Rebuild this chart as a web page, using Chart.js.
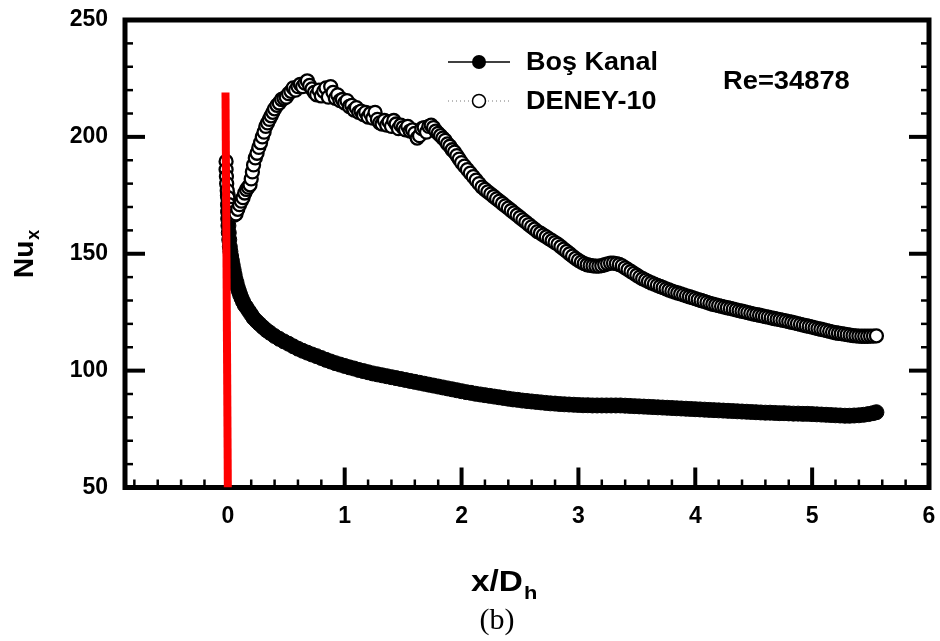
<!DOCTYPE html>
<html><head><meta charset="utf-8">
<script src="https://cdn.jsdelivr.net/npm/chart.js@4.4.1/dist/chart.umd.min.js"></script>
<style>html,body{margin:0;padding:0;background:#fff;}</style>
</head><body>
<canvas id="c" width="940" height="641"></canvas>
<script>
// ---- data ----
const bosX = [
 0.000,0.001,0.002,0.003,0.005,0.008,0.012,0.017,0.022,0.028,
 0.035,0.042,0.050,0.058,0.066,0.075,0.085,0.095,0.105,0.117,
 0.130,0.145,0.160,0.180,0.200,0.220,0.245,0.270,0.300,0.330,
 0.360,0.400,0.440,0.480,0.520,0.560,0.600,0.640,0.680,0.720,
 0.760,0.800,0.840,0.880,0.920,0.960,1.000,1.040,1.080,1.120,
 1.160,1.200,1.240,1.280,1.320,1.360,1.400,1.440,1.480,1.520,
 1.560,1.600,1.640,1.680,1.720,1.760,1.800,1.840,1.880,1.920,
 1.960,2.000,2.040,2.080,2.120,2.160,2.200,2.240,2.280,2.320,
 2.360,2.400,2.440,2.480,2.520,2.560,2.600,2.640,2.680,2.720,
 2.760,2.800,2.840,2.880,2.920,2.960,3.000,3.040,3.080,3.120,
 3.160,3.200,3.240,3.280,3.320,3.360,3.400,3.440,3.480,3.520,
 3.560,3.600,3.640,3.680,3.720,3.760,3.800,3.840,3.880,3.920,
 3.960,4.000,4.040,4.080,4.120,4.160,4.200,4.240,4.280,4.320,
 4.360,4.400,4.440,4.480,4.520,4.560,4.600,4.640,4.680,4.720,
 4.760,4.800,4.840,4.880,4.920,4.960,5.000,5.040,5.080,5.120,
 5.160,5.200,5.240,5.280,5.320,5.360,5.400,5.440,5.480,5.520,
 5.550];
const bosY = [
 175,171,168,165,162,159,156,153,151,149,
 147,145,143,141,139,137.5,135.5,134,132.5,131,
 129.5,128,127,125.5,124,122.5,121.2,120,118.6,117.3,
 116.2,114.8,113.6,112.5,111.5,110.4,109.4,108.5,107.7,106.9,
 106.2,105.4,104.6,103.9,103.2,102.6,102.0,101.4,100.9,100.3,
 99.8,99.3,98.8,98.4,98.0,97.6,97.2,96.8,96.4,96.0,
 95.6,95.2,94.8,94.4,94.0,93.6,93.2,92.8,92.4,92.0,
 91.6,91.2,90.8,90.5,90.1,89.8,89.5,89.2,88.9,88.6,
 88.3,88.0,87.7,87.5,87.2,87.0,86.8,86.6,86.4,86.2,
 86.0,85.9,85.7,85.6,85.5,85.4,85.3,85.2,85.2,85.1,
 85.1,85.1,85.1,85.1,85.1,85.1,85.0,84.9,84.8,84.7,
 84.6,84.5,84.4,84.3,84.2,84.1,84.0,83.9,83.8,83.7,
 83.6,83.5,83.4,83.3,83.2,83.1,83.0,82.9,82.8,82.7,
 82.6,82.5,82.4,82.3,82.2,82.1,82.0,82.0,81.9,81.8,
 81.8,81.7,81.6,81.6,81.5,81.5,81.4,81.3,81.2,81.1,
 81.0,80.9,80.8,80.7,80.7,80.8,80.9,81.1,81.4,81.8,
 82.2];

const deneyX = [
 -0.015,-0.015,-0.012,-0.010,-0.005,0.000,0.010,0.025,0.040,0.055,
 0.070,0.085,0.100,0.115,0.130,0.145,0.160,0.175,0.190,0.200,
 0.210,0.220,0.235,0.250,0.265,0.280,0.295,0.310,0.325,0.340,
 0.355,0.370,0.385,0.400,0.420,0.440,0.460,0.480,0.500,0.520,
 0.540,0.560,0.580,0.600,0.620,0.640,0.660,0.680,0.700,0.720,
 0.740,0.760,0.780,0.800,0.820,0.840,0.860,0.880,0.900,0.920,
 0.940,0.960,0.980,1.000,
 1.02,1.04,1.06,1.08,1.10,1.12,1.14,1.16,1.18,1.20,
 1.22,1.24,1.26,1.28,1.30,1.32,1.34,1.36,1.38,1.40,
 1.42,1.44,1.46,1.48,1.50,1.52,1.54,1.56,1.58,1.60,
 1.62,1.64,1.66,1.68,1.70,1.72,1.74,1.76,1.78,1.80,
 1.82,1.84,1.86,1.88,1.90,1.92,1.94,1.96,1.98,2.00,
 2.025,2.05,2.075,2.1,2.125,2.15,2.175,2.2,2.225,2.25,
 2.275,2.3,2.325,2.35,2.375,2.4,2.425,2.45,2.475,2.5,
 2.525,2.55,2.575,2.6,2.625,2.65,2.675,2.7,2.725,2.75,
 2.775,2.8,2.825,2.85,2.875,2.9,2.925,2.95,2.975,3.0,
 3.025,3.05,3.075,3.1,3.125,3.15,3.175,3.2,3.225,3.25,
 3.275,3.3,3.325,3.35,3.375,3.4,3.425,3.45,3.475,3.5,
 3.525,3.55,3.575,3.6,3.625,3.65,3.675,3.7,3.725,3.75,
 3.775,3.8,3.825,3.85,3.875,3.9,3.925,3.95,3.975,4.0,
 4.025,4.05,4.075,4.1,4.125,4.15,4.175,4.2,4.225,4.25,
 4.275,4.3,4.325,4.35,4.375,4.4,4.425,4.45,4.475,4.5,
 4.525,4.55,4.575,4.6,4.625,4.65,4.675,4.7,4.725,4.75,
 4.775,4.8,4.825,4.85,4.875,4.9,4.925,4.95,4.975,5.0,
 5.025,5.05,5.075,5.1,5.125,5.15,5.175,5.2,5.225,5.25,
 5.275,5.3,5.325,5.35,5.375,5.4,5.425,5.45,5.475,5.5,
 5.525,5.55];
const deneyY = [
 189.5,186,183,180,177,174,171,169,167.5,166.5,
 167,169,171,172.5,174,176,177.5,178.5,179.5,182,
 185,188,191,193,195.5,197.5,200,202,204.5,206,
 207.5,209,210.5,212,213.5,214.5,216,216.5,217,218.5,
 219.5,221,220,221.5,222.5,221.5,223,224,222,220.5,
 219,218,220,217.5,219.5,221,217,221.5,219,216.5,
 218,215.5,216,214.5,
 215.5,213,213.5,211.5,212.5,210.5,211,209.5,210.5,208.5,
 210,208,210.5,207.5,206,205.5,207,205,206.5,204.5,
 207,205.5,203.5,205,204,203,204.5,202.5,203,201.5,
 199.5,200.5,203.5,204,202,204.5,205,204,202.5,201.5,
 200.5,199.5,198.5,197,196,194.5,193.5,192,190.5,189,
 187.5,186,184.5,183,181.5,180,178.5,177.5,176.5,175.5,
 174.5,173.5,172.5,171.5,170.5,169.5,168.5,167.5,166.5,165.5,
 164.5,163.5,162.5,161.5,160.5,159.5,158.8,158,157.2,156.4,
 155.6,154.8,154,153,152,151,150,149,148,147.2,
 146.4,145.8,145.3,145,144.8,144.7,144.7,144.9,145.3,145.7,
 146,146,145.8,145.4,144.8,144,143.2,142.4,141.6,140.8,
 140,139.3,138.7,138.1,137.5,137,136.5,136,135.5,135,
 134.5,134,133.6,133.2,132.8,132.4,132,131.6,131.2,130.8,
 130.4,130,129.6,129.2,128.8,128.4,128.1,127.8,127.5,127.2,
 126.9,126.6,126.3,126,125.7,125.4,125.1,124.8,124.5,124.2,
 124,123.7,123.4,123.1,122.9,122.6,122.3,122,121.8,121.5,
 121.3,121,120.7,120.4,120.1,119.8,119.5,119.2,118.9,118.6,
 118.3,118,117.7,117.4,117.1,116.8,116.5,116.2,116,115.8,
 115.6,115.4,115.2,115,114.9,114.8,114.7,114.7,114.7,114.8,
 114.8,114.9];

const redX = [-0.02, 0.0];
const redY = [219, 50];

const xTickValues = [0,1,2,3,4,5,6];
const xMinorValues = [-0.8,-0.6,-0.4,-0.2,0.2,0.4,0.6,0.8,1.2,1.4,1.6,1.8,2.2,2.4,2.6,2.8,3.2,3.4,3.6,3.8,4.2,4.4,4.6,4.8,5.2,5.4,5.6,5.8];
const yTickValues = [50,100,150,200,250];
const yMinorValues = [60,70,80,90,110,120,130,140,160,170,180,190,210,220,230,240];

const seriesNames = ['Boş Kanal','DENEY-10'];
const reLabel = 'Re=34878';

// ---- chart ----
const FONT = '"Liberation Sans", Arial, sans-serif';
const pts = (xs, ys) => xs.map((x, i) => ({x: x, y: ys[i]}));

function stretchText(ctx, txt, x, y, sx) {
  ctx.save(); ctx.translate(x, y); ctx.scale(sx, 1); ctx.fillText(txt, 0, 0); ctx.restore();
  return ctx.measureText(txt).width * sx;
}

const framePlugin = {
  id: 'frame',
  beforeDatasetsDraw(chart) {
    const ctx = chart.ctx, ca = chart.chartArea;
    const xs = chart.scales.x, ys = chart.scales.y;
    ctx.save();
    ctx.strokeStyle = '#000';
    ctx.lineCap = 'butt';
    const seg = (x1, y1, x2, y2, w) => { ctx.lineWidth = w; ctx.beginPath(); ctx.moveTo(x1, y1); ctx.lineTo(x2, y2); ctx.stroke(); };
    xTickValues.forEach(v => { const p = xs.getPixelForValue(v); seg(p, ca.bottom, p, ca.bottom - 20, 4); });
    xMinorValues.forEach(v => { const p = xs.getPixelForValue(v); seg(p, ca.bottom, p, ca.bottom - 8, 2.5); });
    yTickValues.forEach(v => { const p = ys.getPixelForValue(v); seg(ca.left, p, ca.left + 20, p, 4); seg(ca.right, p, ca.right - 20, p, 4); });
    yMinorValues.forEach(v => { const p = ys.getPixelForValue(v); seg(ca.left, p, ca.left + 8, p, 2.5); seg(ca.right, p, ca.right - 8, p, 2.5); });
    ctx.lineWidth = 5; ctx.lineJoin = 'miter';
    ctx.strokeRect(ca.left, ca.top, ca.right - ca.left, ca.bottom - ca.top);
    ctx.restore();
  },
  afterDraw(chart) {
    const ctx = chart.ctx;
    const dsB = chart.data.datasets[2], dsD = chart.data.datasets[1];
    ctx.save();
    // legend
    ctx.strokeStyle = '#000'; ctx.lineWidth = 1.5;
    ctx.beginPath(); ctx.moveTo(448, 62); ctx.lineTo(510, 62); ctx.stroke();
    ctx.fillStyle = '#000'; ctx.beginPath(); ctx.arc(479, 62, 7, 0, Math.PI * 2); ctx.fill();
    ctx.strokeStyle = '#777'; ctx.lineWidth = 1; ctx.setLineDash([1, 3]);
    ctx.beginPath(); ctx.moveTo(448, 101); ctx.lineTo(510, 101); ctx.stroke();
    ctx.setLineDash([]);
    ctx.fillStyle = '#fff'; ctx.strokeStyle = '#000'; ctx.lineWidth = 1.5;
    ctx.beginPath(); ctx.arc(479, 101, 6.5, 0, Math.PI * 2); ctx.fill(); ctx.stroke();
    ctx.fillStyle = '#000';
    ctx.font = 'bold 25px ' + FONT;
    ctx.textAlign = 'left'; ctx.textBaseline = 'middle';
    stretchText(ctx, dsB.label, 526, 63, 1.08);
    stretchText(ctx, dsD.label, 526, 102, 1.08);
    ctx.font = 'bold 26px ' + FONT;
    stretchText(ctx, reLabel, 723, 82, 1.05);
    // y title Nu_x
    ctx.save();
    ctx.translate(33, 278); ctx.rotate(-Math.PI / 2);
    ctx.textBaseline = 'alphabetic';
    ctx.font = 'bold 28px ' + FONT;
    ctx.fillText('Nu', 0, 0);
    const wNu = ctx.measureText('Nu').width;
    ctx.font = 'bold 18px ' + FONT;
    ctx.fillText('x', wNu + 1, 6);
    ctx.restore();
    // x title x/D_h
    ctx.textBaseline = 'alphabetic';
    ctx.font = 'bold 29px ' + FONT;
    const wD = stretchText(ctx, 'x/D', 471, 591, 1.15);
    ctx.font = 'bold 19px ' + FONT;
    stretchText(ctx, 'h', 471 + wD + 1, 599, 1.15);
    // (b)
    ctx.font = '30px "Liberation Serif", "Times New Roman", serif';
    ctx.textAlign = 'center';
    ctx.fillText('(b)', 497, 629);
    ctx.restore();
  }
};

const noPad = s => { s.paddingTop = 0; s.paddingBottom = 0; s.paddingLeft = 0; s.paddingRight = 0; };

new Chart(document.getElementById('c').getContext('2d'), {
  type: 'scatter',
  data: {
    datasets: [
      { label: 'red', data: pts(redX, redY), showLine: true, borderColor: '#ff0000', borderWidth: 8,
        pointRadius: 0, borderCapStyle: 'butt', order: 0 },
      { label: seriesNames[1], data: pts(deneyX, deneyY), showLine: true, borderColor: '#888', borderWidth: 1,
        borderDash: [1, 3], pointRadius: 6.5, pointBackgroundColor: '#fff', pointBorderColor: '#000',
        pointBorderWidth: 2.3, order: 1 },
      { label: seriesNames[0], data: pts(bosX, bosY), showLine: true, borderColor: '#000', borderWidth: 1,
        pointRadius: 7.5, pointBackgroundColor: '#000', pointBorderColor: '#000', pointBorderWidth: 1, order: 2 }
    ]
  },
  options: {
    responsive: false, animation: false, devicePixelRatio: 1,
    layout: { padding: { top: 20, right: 11, left: 0, bottom: 0 } },
    plugins: { legend: { display: false }, tooltip: { enabled: false } },
    scales: {
      x: {
        type: 'linear', min: -0.88, max: 6,
        afterBuildTicks: s => { s.ticks = xTickValues.map(v => ({ value: v })); },
        afterFit: s => { s.height = 153.5; noPad(s); },
        grid: { display: false, drawTicks: false }, border: { display: false },
        ticks: { color: '#000', padding: 15, maxRotation: 0, autoSkip: false,
                 font: { family: FONT, size: 23, weight: 'bold' } }
      },
      y: {
        type: 'linear', min: 50, max: 250,
        afterBuildTicks: s => { s.ticks = yTickValues.map(v => ({ value: v })); },
        afterFit: s => { s.width = 125; noPad(s); },
        grid: { display: false, drawTicks: false }, border: { display: false },
        ticks: { color: '#000', padding: 17, autoSkip: false,
                 font: { family: FONT, size: 23, weight: 'bold' } }
      }
    }
  },
  plugins: [framePlugin]
});
</script>
</body></html>
